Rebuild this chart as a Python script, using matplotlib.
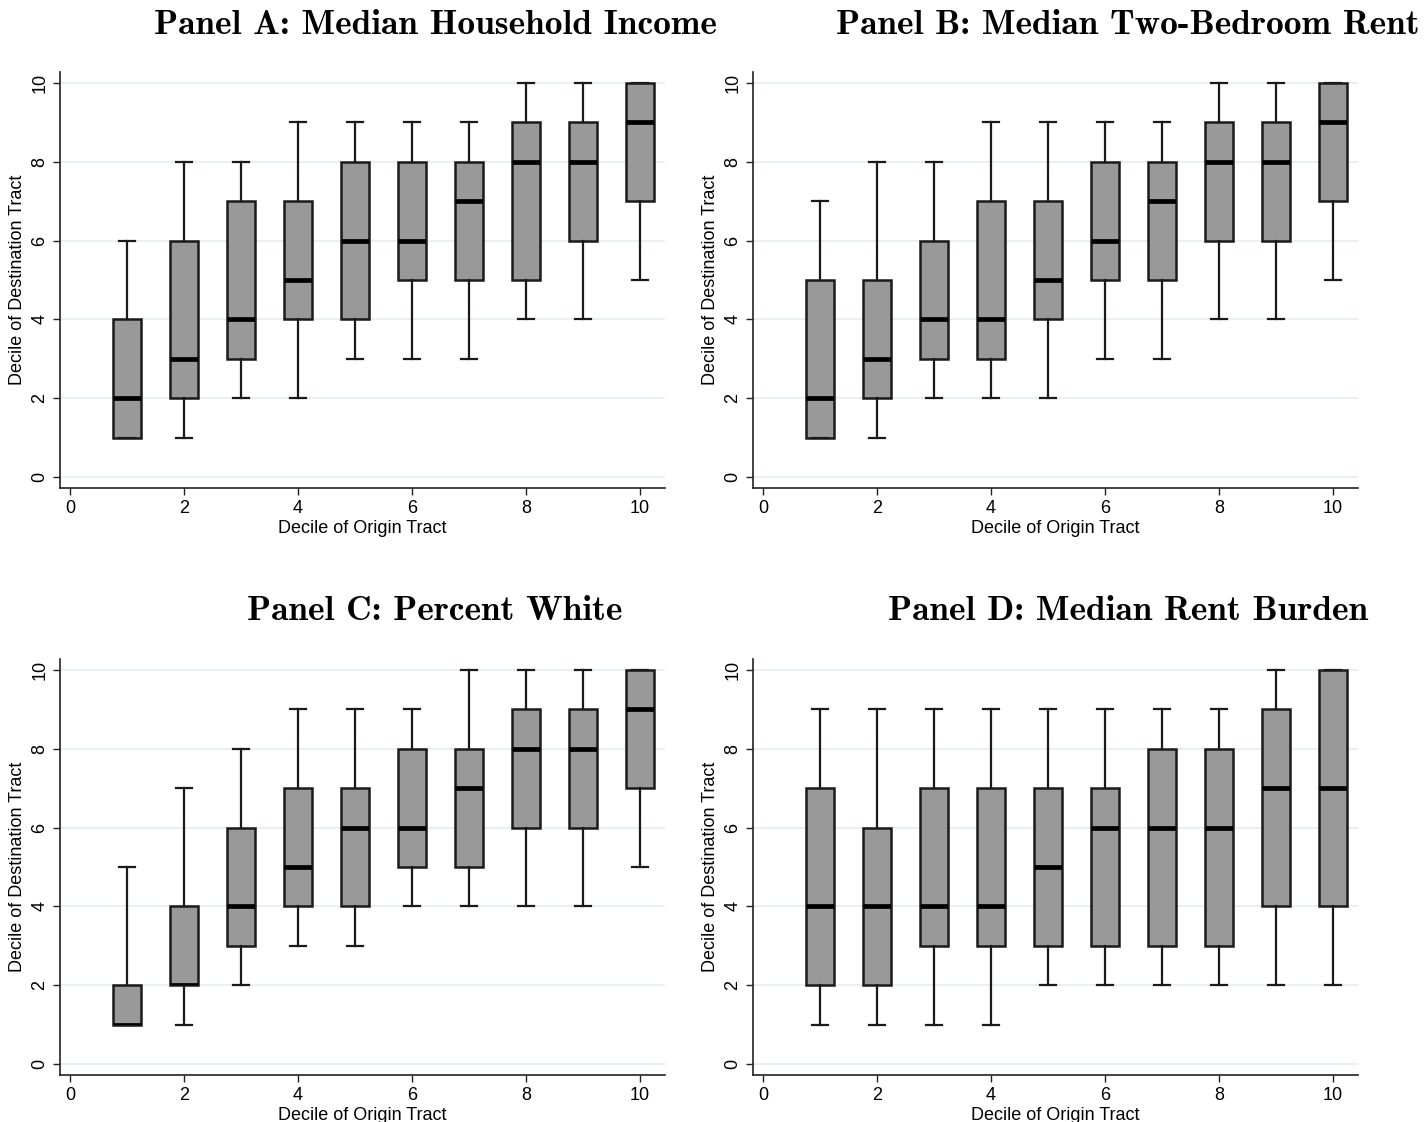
import matplotlib
matplotlib.use("Agg")
import matplotlib.pyplot as plt
from matplotlib import font_manager

origin_deciles = [1, 2, 3, 4, 5, 6, 7, 8, 9, 10]
x_ticks = [0, 2, 4, 6, 8, 10]
y_ticks = [0, 2, 4, 6, 8, 10]

titles = ["Panel A: Median Household Income",
          "Panel B: Median Two-Bedroom Rent",
          "Panel C: Percent White",
          "Panel D: Median Rent Burden"]

# whisker low, q1, median, q3, whisker high for each origin decile
income_low = [1, 1, 2, 2, 3, 3, 3, 4, 4, 5]
income_q1 = [1, 2, 3, 4, 4, 5, 5, 5, 6, 7]
income_med = [2, 3, 4, 5, 6, 6, 7, 8, 8, 9]
income_q3 = [4, 6, 7, 7, 8, 8, 8, 9, 9, 10]
income_high = [6, 8, 8, 9, 9, 9, 9, 10, 10, 10]

rent_low = [1, 1, 2, 2, 2, 3, 3, 4, 4, 5]
rent_q1 = [1, 2, 3, 3, 4, 5, 5, 6, 6, 7]
rent_med = [2, 3, 4, 4, 5, 6, 7, 8, 8, 9]
rent_q3 = [5, 5, 6, 7, 7, 8, 8, 9, 9, 10]
rent_high = [7, 8, 8, 9, 9, 9, 9, 10, 10, 10]

white_low = [1, 1, 2, 3, 3, 4, 4, 4, 4, 5]
white_q1 = [1, 2, 3, 4, 4, 5, 5, 6, 6, 7]
white_med = [1, 2, 4, 5, 6, 6, 7, 8, 8, 9]
white_q3 = [2, 4, 6, 7, 7, 8, 8, 9, 9, 10]
white_high = [5, 7, 8, 9, 9, 9, 10, 10, 10, 10]

burden_low = [1, 1, 1, 1, 2, 2, 2, 2, 2, 2]
burden_q1 = [2, 2, 3, 3, 3, 3, 3, 3, 4, 4]
burden_med = [4, 4, 4, 4, 5, 6, 6, 6, 7, 7]
burden_q3 = [7, 6, 7, 7, 7, 7, 8, 8, 9, 10]
burden_high = [9, 9, 9, 9, 9, 9, 9, 9, 10, 10]

panels = [
    (income_low, income_q1, income_med, income_q3, income_high),
    (rent_low, rent_q1, rent_med, rent_q3, rent_high),
    (white_low, white_q1, white_med, white_q3, white_high),
    (burden_low, burden_q1, burden_med, burden_q3, burden_high),
]

avail = {f.name for f in font_manager.fontManager.ttflist}
sans = "Liberation Sans Narrow" if "Liberation Sans Narrow" in avail else "Liberation Sans"
plt.rcParams["font.family"] = [sans, "DejaVu Sans"]

W, H = 1424, 1122
fig = plt.figure(figsize=(W / 100, H / 100), dpi=100)

# axes rectangles in pixel coords: left, top, right, bottom
rects = [(60, 72, 665, 488), (753, 72, 1358, 488),
         (60, 659, 665, 1075), (753, 659, 1358, 1075)]
title_pos = [(435, 25), (1128, 25), (435, 612), (1128, 612)]

for i, (stats_src, rect) in enumerate(zip(panels, rects)):
    l, t, r, b = rect
    ax = fig.add_axes([l / W, 1 - b / H, (r - l) / W, (b - t) / H])
    low, q1, med, q3, high = stats_src
    stats = [dict(whislo=lo, q1=a, med=m, q3=c, whishi=hi, label=str(x))
             for x, lo, a, m, c, hi in zip(origin_deciles, low, q1, med, q3, high)]
    parts = ax.bxp(stats, positions=origin_deciles, widths=0.48, showfliers=False,
                   patch_artist=True, manage_ticks=False,
                   boxprops=dict(facecolor="#999999", edgecolor="#1a1a1a", linewidth=1.8),
                   medianprops=dict(color="black", linewidth=3.4, solid_capstyle="butt"),
                   whiskerprops=dict(color="#1a1a1a", linewidth=1.6),
                   capprops=dict(color="#1a1a1a", linewidth=1.6),
                   capwidths=0.28)
    for box, mline in zip(parts["boxes"], parts["medians"]):
        mline.set_clip_path(box)
    ax.set_xlim(-0.175, 10.44)
    ax.set_ylim(-0.28, 10.28)
    ax.set_xticks(x_ticks)
    ax.set_yticks(y_ticks)
    ax.set_yticklabels([str(v) for v in y_ticks], rotation=90, va="center")
    ax.tick_params(axis="both", labelsize=13, length=5, width=1, color="#222222")
    ax.grid(axis="y", color="#e6eef0", linewidth=1.2)
    ax.set_axisbelow(True)
    for s in ["top", "right"]:
        ax.spines[s].set_visible(False)
    for s in ["left", "bottom"]:
        ax.spines[s].set_linewidth(1.2)
        ax.spines[s].set_color("#222222")
    ax.set_xlabel("Decile of Origin Tract", fontsize=13, labelpad=2)
    ax.set_ylabel("Decile of Destination Tract", fontsize=13, labelpad=4)
    tx, ty = title_pos[i]
    fig.text(tx / W, 1 - ty / H, titles[i], ha="center", va="center",
             fontsize=25.5, family="cmb10")

fig.savefig("out.png", dpi=100)
